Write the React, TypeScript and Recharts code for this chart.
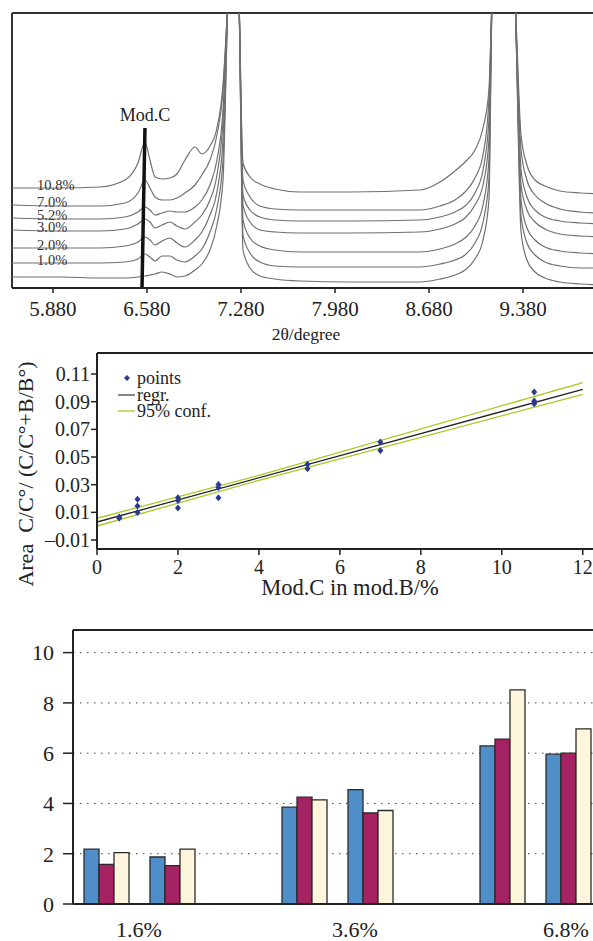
import React from 'react'
import {
  LineChart,
  Line,
  ComposedChart,
  Scatter,
  BarChart,
  Bar,
  XAxis,
  YAxis,
  CartesianGrid,
  ReferenceLine,
  ReferenceDot,
  LabelList,
  Legend,
} from 'recharts'

const serif = '"Liberation Serif", "Times New Roman", serif'
const ink = '#222'

// --- XRD patterns: 2θ (degree) and intensity (a.u., baseline-shifted per sample) ---
const theta = [
  5.575, 5.932, 6.23, 6.416, 6.513, 6.565, 6.602, 6.64, 6.692, 6.751, 6.803, 6.863, 6.937, 6.989, 7.049,
  7.101, 7.146, 7.183, 7.22, 7.265, 7.295, 7.347, 7.421, 7.533, 7.719, 8.091, 8.613, 8.762, 8.873, 8.948,
  9.022, 9.082, 9.126, 9.15, 9.238, 9.32, 9.365, 9.409, 9.469, 9.543, 9.655, 9.804, 9.953,
]
const i108 = [
  100, 100, 101, 108, 125, 146, 128, 111, 109, 110, 114, 128, 141, 134, 142, 160, 203, 290, 408, 290, 125,
  111, 104, 99, 96, 96, 98, 106, 117, 126, 138, 160, 198, 290, 408, 290, 153, 123, 108, 102, 97, 95, 94,
]
const i70 = [
  83, 82, 82, 85, 95, 108, 100, 91, 88, 88, 90, 95, 103, 113, 128, 153, 198, 290, 408, 290, 108, 91, 82,
  79, 78, 78, 78, 82, 88, 96, 110, 133, 188, 290, 408, 290, 138, 108, 93, 85, 79, 76, 75,
]
const i52 = [
  70, 69, 69, 71, 76, 81, 78, 73, 75, 77, 76, 76, 81, 88, 103, 128, 178, 290, 408, 290, 93, 78, 71, 68,
  67, 67, 68, 71, 76, 82, 95, 118, 168, 290, 408, 290, 118, 91, 78, 71, 67, 65, 64,
]
const i30 = [
  58, 57, 57, 59, 64, 69, 66, 60, 63, 66, 62, 59, 66, 73, 88, 113, 168, 290, 408, 290, 83, 66, 58, 56,
  55, 55, 56, 59, 64, 70, 83, 103, 148, 290, 408, 290, 103, 78, 66, 59, 54, 52, 51,
]
const i20 = [
  40, 40, 40, 42, 46, 51, 48, 43, 47, 50, 45, 41, 48, 56, 73, 96, 148, 290, 408, 290, 68, 50, 42, 38,
  36, 36, 36, 39, 44, 50, 62, 83, 128, 290, 408, 290, 88, 60, 48, 41, 37, 35, 34,
]
const i10 = [
  25, 25, 25, 26, 29, 34, 31, 27, 32, 32, 28, 26, 32, 39, 56, 80, 128, 290, 408, 290, 53, 35, 26, 22,
  21, 21, 21, 24, 28, 33, 45, 66, 108, 290, 408, 290, 73, 45, 33, 26, 22, 20, 20,
]
const i0 = [
  11, 11, 10, 10, 11, 12, 13, 14, 16, 14, 11, 12, 18, 24, 38, 63, 108, 290, 408, 290, 38, 20, 12, 9, 7,
  6, 6, 9, 13, 18, 29, 48, 88, 290, 408, 290, 56, 28, 16, 10, 6, 4, 3,
]
const patterns = [
  { key: 'i108', name: '10.8%', values: i108 },
  { key: 'i70', name: '7.0%', values: i70 },
  { key: 'i52', name: '5.2%', values: i52 },
  { key: 'i30', name: '3.0%', values: i30 },
  { key: 'i20', name: '2.0%', values: i20 },
  { key: 'i10', name: '1.0%', values: i10 },
  { key: 'i0', name: '', values: i0 },
]
const thetaTicks = [5.88, 6.58, 7.28, 7.98, 8.68, 9.38]
const thetaDomain = [5.575, 9.953]
const intensityDomain = [0, 275]
// marker drawn through the Mod.C reflection (top, bottom)
const modC = [
  { t: 6.565, v: 160 },
  { t: 6.543, v: 0 },
]

// --- calibration: Mod.C content vs. area ratio ---
const doseX = [0.55, 0.55, 1, 1, 1, 2, 2, 2, 3, 3, 3, 5.2, 5.2, 7, 7, 10.8, 10.8, 10.8]
const areaY = [
  0.0066, 0.0058, 0.0194, 0.0146, 0.0098, 0.0206, 0.0185, 0.0131, 0.0302, 0.0279, 0.0206, 0.0447, 0.0416,
  0.0608, 0.0548, 0.097, 0.0905, 0.0886,
]
const fitX = [0, 12]
const fitY = [0.003, 0.0989]
const bandX = [0, 4, 12]
const bandHi = [0.0057, 0.0368, 0.1038]
const bandLo = [0.0001, 0.0332, 0.0953]
const doseTicks = [0, 2, 4, 6, 8, 10, 12]
const areaTicks = [-0.01, 0.01, 0.03, 0.05, 0.07, 0.09, 0.11]
const doseDomain = [0, 12.5]
const areaDomain = [-0.0165, 0.1252]

// --- bar groups ---
const slots = ['1.6% a', '1.6% b', 'gap 1', '3.6% a', '3.6% b', 'gap 2', '6.8% a', '6.8% b']
const blueVals = [2.18, 1.87, null, 3.85, 4.55, null, 6.29, 5.96]
const wineVals = [1.58, 1.53, null, 4.25, 3.62, null, 6.56, 6.0]
const creamVals = [2.04, 2.18, null, 4.14, 3.72, null, 8.52, 6.97]
const groupLabels = ['1.6%', '3.6%', '6.8%']
// where each group label sits, counted in slots from the left edge
const groupLabelAt = [1, 4.27, 7.47]
const barTicks = [0, 2, 4, 6, 8, 10]
const barDomain = [0, 10.9]

const navy = '#2b3990'
const bandColor = '#a9c923'

const xrdRows = theta.map((t, i) => {
  const row: Record<string, number> = { t }
  patterns.forEach((p) => {
    row[p.key] = p.values[i]
  })
  return row
})

const XrdPanel = () => (
  <LineChart width={600} height={345} data={xrdRows} margin={{ top: 13, right: 0, left: 12, bottom: 7 }}>
    <XAxis
      dataKey="t"
      type="number"
      domain={thetaDomain}
      ticks={thetaTicks}
      interval={0}
      allowDataOverflow
      tickFormatter={(v: number) => v.toFixed(3)}
      tickSize={5}
      tickMargin={8}
      height={50}
      tick={{ fontSize: 21, fontFamily: serif, fill: ink }}
      axisLine={{ stroke: ink, strokeWidth: 2 }}
      tickLine={{ stroke: ink, strokeWidth: 1.5 }}
      label={{
        value: '2θ/degree',
        position: 'insideBottom',
        offset: -2,
        style: { fontSize: 17.5, fontFamily: serif, fill: ink },
      }}
    />
    <YAxis hide domain={intensityDomain} allowDataOverflow />
    <ReferenceLine x={thetaDomain[0]} stroke="#333" strokeWidth={2} />
    <ReferenceLine y={intensityDomain[1]} stroke="#333" strokeWidth={2} />
    {patterns.map((p) => (
      <Line
        key={p.key}
        dataKey={p.key}
        type="monotone"
        stroke="#707070"
        strokeWidth={1.2}
        dot={false}
        isAnimationActive={false}
      >
        {p.name && (
          <LabelList
            dataKey={p.key}
            content={(props: any) =>
              props.index === 0 ? (
                <text
                  x={Number(props.x) + 25}
                  y={Number(props.y) + 1.5}
                  fontSize={14.5}
                  fontFamily={serif}
                  fill="#333"
                >
                  {p.name}
                </text>
              ) : null
            }
          />
        )}
      </Line>
    ))}
    <ReferenceLine
      segment={[
        { x: modC[0].t, y: modC[0].v },
        { x: modC[1].t, y: modC[1].v },
      ]}
      stroke="#111"
      strokeWidth={3.5}
    />
    <ReferenceDot
      x={modC[0].t}
      y={modC[0].v}
      r={0}
      label={{ value: 'Mod.C', position: 'top', offset: 7, style: { fontSize: 18, fontFamily: serif, fill: ink } }}
    />
  </LineChart>
)

const points = doseX.map((x, i) => ({ x, y: areaY[i] }))
const fitRows = fitX.map((x, i) => ({ x, y: fitY[i] }))
const hiRows = bandX.map((x, i) => ({ x, y: bandHi[i] }))
const loRows = bandX.map((x, i) => ({ x, y: bandLo[i] }))

const legendItems = [
  { name: 'points', kind: 'diamond', color: navy },
  { name: 'regr.', kind: 'line', color: '#444' },
  { name: '95% conf.', kind: 'line', color: bandColor },
]

const FitLegend = () => (
  <div style={{ fontFamily: serif, fontSize: 18, color: ink, lineHeight: '16px' }}>
    {legendItems.map((it) => (
      <div key={it.name} style={{ display: 'flex', alignItems: 'center', height: 16.5 }}>
        <svg width={19} height={16}>
          {it.kind === 'diamond' ? (
            <path d="M9,5L12,8L9,11L6,8Z" fill={it.color} />
          ) : (
            <line x1={0} x2={17} y1={8} y2={8} stroke={it.color} strokeWidth={1.3} />
          )}
        </svg>
        <span>{it.name}</span>
      </div>
    ))}
  </div>
)

const Diamond = (props: any) => {
  const { cx, cy } = props
  return <path d={`M${cx},${cy - 3.5}L${cx + 3},${cy}L${cx},${cy + 3.5}L${cx - 3},${cy}Z`} fill={navy} />
}

const CalibrationPanel = () => (
  <ComposedChart width={603} height={262} margin={{ top: 13, right: 0, left: 0, bottom: 7 }}>
    <XAxis
      dataKey="x"
      type="number"
      domain={doseDomain}
      ticks={doseTicks}
      interval={0}
      allowDataOverflow
      tickSize={6}
      tickMargin={5}
      height={46}
      tick={{ fontSize: 20, fontFamily: serif, fill: ink }}
      axisLine={{ stroke: ink, strokeWidth: 2 }}
      tickLine={{ stroke: ink, strokeWidth: 1.5 }}
      label={{
        value: 'Mod.C in mod.B/%',
        position: 'insideBottom',
        offset: 0,
        style: { fontSize: 22.5, fontFamily: serif, fill: ink },
      }}
    />
    <YAxis
      dataKey="y"
      type="number"
      domain={areaDomain}
      ticks={areaTicks}
      interval={0}
      allowDataOverflow
      width={97}
      tickSize={6}
      tickMargin={1}
      tickFormatter={(v: number) => (v < 0 ? '–' + Math.abs(v).toFixed(2) : v.toFixed(2))}
      tick={{ fontSize: 20, fontFamily: serif, fill: ink }}
      axisLine={{ stroke: ink, strokeWidth: 2 }}
      tickLine={{ stroke: ink, strokeWidth: 1.5 }}
      label={{
        content: (props: any) => {
          const vb = props.viewBox || { x: 0, y: 13, height: 196 }
          const cx = vb.x + 25
          const cy = vb.y + vb.height / 2 + 23
          return (
            <text
              transform={`translate(${cx},${cy}) rotate(-90)`}
              textAnchor="middle"
              dominantBaseline="central"
              fontSize={22}
              fontFamily={serif}
              fill={ink}
            >
              {'Area\u00a0\u00a0C/C°/ (C/C°+B/B°)'}
            </text>
          )
        },
      }}
    />
    <ReferenceLine y={areaDomain[1]} stroke={ink} strokeWidth={2} />
    <Line data={hiRows} dataKey="y" type="linear" stroke={bandColor} strokeWidth={1.3} dot={false} isAnimationActive={false} />
    <Line data={loRows} dataKey="y" type="linear" stroke={bandColor} strokeWidth={1.3} dot={false} isAnimationActive={false} />
    <Line data={fitRows} dataKey="y" type="linear" stroke="#222" strokeWidth={1.3} dot={false} isAnimationActive={false} />
    <Scatter data={points} dataKey="y" fill={navy} shape={Diamond} isAnimationActive={false} />
    <Legend
      layout="vertical"
      align="center"
      verticalAlign="middle"
      content={() => <FitLegend />}
      wrapperStyle={{ left: 118, top: 30, width: 140, height: 52 }}
    />
  </ComposedChart>
)

const barRows = slots.map((slot, i) => ({
  slot,
  blue: blueVals[i],
  wine: wineVals[i],
  cream: creamVals[i],
}))

// draws the three group captions once, measured in slot widths from the plot's left edge
const GroupTick = (props: any) => {
  const { x, y, index, payload } = props
  if (index !== 0) return null
  const half = payload && payload.offset ? payload.offset : 33
  const left = x - half
  return (
    <g>
      {groupLabels.map((g, i) => (
        <text
          key={g}
          x={left + groupLabelAt[i] * 2 * half}
          y={y}
          dy={33}
          textAnchor="middle"
          fontSize={22}
          fontFamily={serif}
          fill={ink}
        >
          {g}
        </text>
      ))}
    </g>
  )
}

const barStroke = '#2a2a2a'

const BarsPanel = () => (
  <BarChart
    width={601}
    height={321}
    data={barRows}
    margin={{ top: 10, right: 0, left: 0, bottom: 0 }}
    barGap={0}
    barSize={15}
  >
    <CartesianGrid vertical={false} strokeDasharray="1.5 5.5" stroke="#444" />
    <XAxis
      dataKey="slot"
      interval={0}
      tick={<GroupTick />}
      tickLine={false}
      tickSize={0}
      tickMargin={0}
      height={37}
      axisLine={{ stroke: ink, strokeWidth: 2 }}
    />
    <YAxis
      domain={barDomain}
      ticks={barTicks}
      interval={0}
      allowDataOverflow
      width={73}
      tickSize={10}
      tickMargin={9}
      tick={{ fontSize: 22, fontFamily: serif, fill: ink }}
      axisLine={{ stroke: ink, strokeWidth: 2 }}
      tickLine={{ stroke: ink, strokeWidth: 1.5 }}
    />
    <ReferenceLine y={barDomain[1]} stroke={ink} strokeWidth={2} />
    <Bar dataKey="blue" fill="#4f8ec9" stroke={barStroke} strokeWidth={1.3} isAnimationActive={false} />
    <Bar dataKey="wine" fill="#a52362" stroke={barStroke} strokeWidth={1.3} isAnimationActive={false} />
    <Bar dataKey="cream" fill="#fdf6dc" stroke={barStroke} strokeWidth={1.3} isAnimationActive={false} />
  </BarChart>
)

export default function App() {
  return (
    <div
      style={{
        position: 'absolute',
        left: 0,
        top: 0,
        width: 593,
        height: 941,
        overflow: 'hidden',
        background: '#fff',
        fontFamily: serif,
      }}
    >
      <div style={{ position: 'absolute', left: 0, top: 0 }}>
        <XrdPanel />
      </div>
      <div style={{ position: 'absolute', left: 0, top: 340 }}>
        <CalibrationPanel />
      </div>
      <div style={{ position: 'absolute', left: 0, top: 620 }}>
        <BarsPanel />
      </div>
    </div>
  )
}
